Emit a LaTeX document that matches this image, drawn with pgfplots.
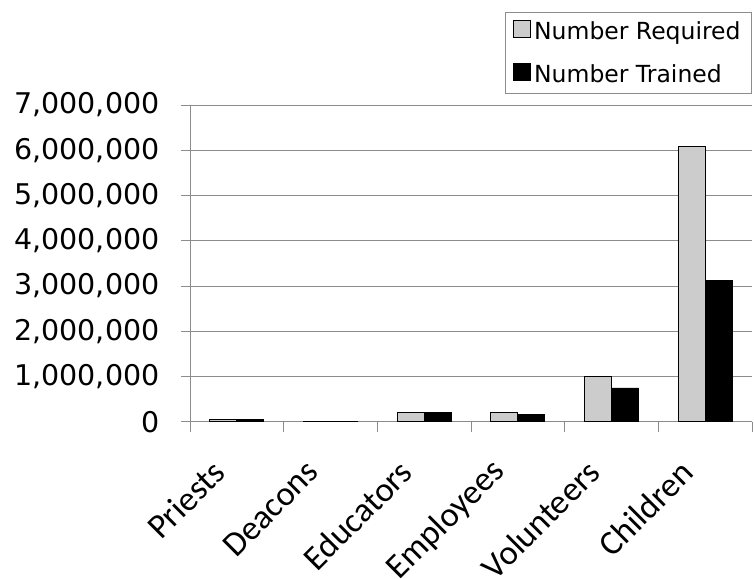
\documentclass[border=0pt]{standalone}
\usepackage{fontspec}
\setmainfont{DejaVu Sans}
\newfontfamily\calfont{Carlito}
\usepackage{pgfplots}
\pgfplotsset{compat=1.18}
\definecolor{reqgray}{HTML}{CCCCCC}
\definecolor{axgray}{HTML}{8C8C8C}
\pgfplotsset{sqlegend/.style={legend image code/.code={\draw[##1,draw=black,line width=0.8pt] (0pt,-6pt) rectangle (17pt,11pt);}}}
\begin{document}
\begin{tikzpicture}
\begin{axis}[
  scale only axis, width=562pt, height=316.7pt,
  xmin=-0.5, xmax=5.5, ymin=0, ymax=7000000,
  ybar=0pt, bar width=27pt,
  axis x line*=bottom, axis y line*=left,
  axis line style={axgray, line width=0.8pt},
  tick align=outside,
  xtick={0,...,5},
  xticklabels={Priests,Deacons,Educators,Employees,Volunteers,Children},
  major x tick style={draw=none},
  minor xtick={-0.5,0.5,...,5.5},
  minor x tick style={axgray, line width=0.8pt},
  minor tick length=10pt,
  ytick={0,1000000,...,7000000},
  major tick length=9pt,
  y tick style={axgray, line width=0.8pt},
  ymajorgrids, major grid style={axgray, line width=0.8pt},
  scaled y ticks=false,
  /pgf/number format/assume math mode=true,
  yticklabel style={/pgf/number format/fixed, /pgf/number format/1000 sep={,}, font=\fontsize{28.5}{30}\selectfont, xshift=-18pt},
  xticklabel style={font=\calfont\fontsize{34.5}{35}\selectfont, xshift=-15.5pt, yshift=-33.5pt, rotate=45, anchor=east},
  legend style={at={(1,1.293)}, anchor=north east, draw=axgray, line width=0.8pt, font=\fontsize{23.5}{24}\selectfont, inner xsep=8pt, inner ysep=7pt, row sep=20pt, legend cell align=left,
    nodes={inner xsep=3pt}},
]
\addplot[fill=reqgray, draw=black, line width=0.8pt, sqlegend] coordinates {(0,40000) (1,15000) (2,200000) (3,200000) (4,1000000) (5,6090000)};
\addplot[fill=black, draw=black, line width=0.8pt, sqlegend] coordinates {(0,40000) (1,12000) (2,200000) (3,160000) (4,745000) (5,3130000)};
\legend{Number Required, Number Trained}
\coordinate (O) at (rel axis cs:0,0);
\end{axis}
\pgfresetboundingbox
\path (O) ++(-190pt,-156.3pt) rectangle ++(754pt,578pt);
\end{tikzpicture}
\end{document}
